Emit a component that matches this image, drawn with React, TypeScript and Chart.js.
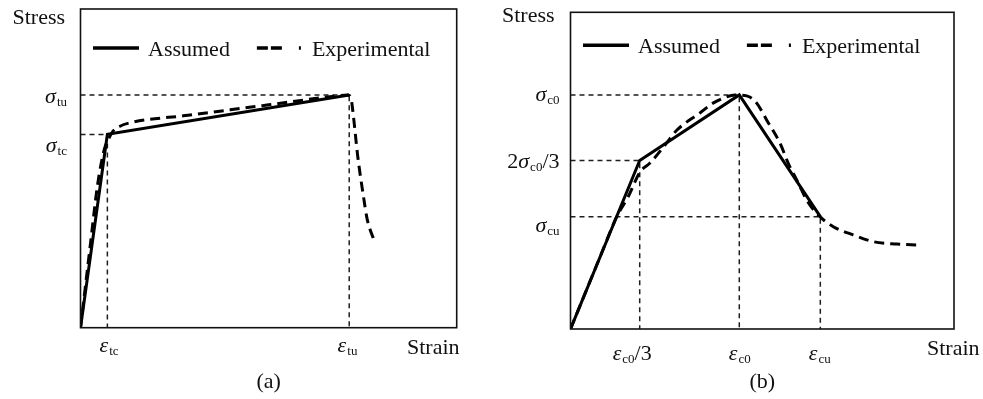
import React, { useEffect, useRef } from "react";
import { Chart, registerables } from "chart.js";
import type { Plugin } from "chart.js";

Chart.register(...registerables);

// ---- (a) tension: stress in units of σtu, strain in units of εtc ----
const tensionAssumedStrain = [0, 1, 10];
const tensionAssumedStress = [0, 0.831, 1];
const tensionTestStrain = [0, 0.38, 0.63, 0.88, 1.04, 1.21, 1.47, 1.85, 4, 7, 9.68, 9.94, 10.06, 10.13, 10.32, 10.54, 10.66, 10.77, 10.91];
const tensionTestStress = [0, 0.37, 0.61, 0.764, 0.81, 0.845, 0.866, 0.881, 0.913, 0.958, 0.998, 1, 0.991, 0.936, 0.734, 0.557, 0.471, 0.424, 0.381];
// labels of the assumed curve's corner points (strain / stress)
const tensionStrainLabels = ["ε_{tc}", "ε_{tu}"];
const tensionStressLabels = ["σ_{tc}", "σ_{tu}"];

// ---- (b) compression: stress in units of σc0, strain in units of εc0 ----
const compAssumedStrain = [0, 0.41, 1, 1.48];
const compAssumedStress = [0, 0.72, 1, 0.48];
const compTestStrain = [0, 0.175, 0.276, 0.341, 0.412, 0.471, 0.56, 0.631, 0.767, 0.844, 0.915, 0.974, 1.044, 1.103, 1.162, 1.241, 1.29, 1.35, 1.399, 1.478, 1.557, 1.675, 1.794, 1.932, 2.06];
const compTestStress = [0, 0.308, 0.483, 0.564, 0.671, 0.709, 0.786, 0.85, 0.923, 0.965, 0.989, 1, 0.996, 0.965, 0.893, 0.794, 0.708, 0.623, 0.551, 0.48, 0.437, 0.402, 0.373, 0.363, 0.359];
const compStrainLabels = ["ε_{c0}/3", "ε_{c0}", "ε_{cu}"];
const compStressLabels = ["2σ_{c0}/3", "σ_{c0}", "σ_{cu}"];

const seriesNames = ["Assumed", "Experimental"];
const axisTitles = ["Stress", "Strain"];

const SERIF = '"Liberation Serif", "Times New Roman", serif';
const FONT_MAIN = `22px ${SERIF}`;
const FONT_GREEK = `italic 22px ${SERIF}`;
const FONT_SUB = `13px ${SERIF}`;
const INK = "#111";

type Seg = { text: string; font: string; dy: number; pad: number };

// "2σ_{c0}/3" -> upright "2", italic "σ", subscript "c0", upright "/3"
function parseLabel(label: string): Seg[] {
  const segs: Seg[] = [];
  let buf = "";
  const flush = () => {
    if (buf) segs.push({ text: buf, font: FONT_MAIN, dy: 0, pad: 0 });
    buf = "";
  };
  let i = 0;
  while (i < label.length) {
    const ch = label[i];
    if (ch === "_" && label[i + 1] === "{") {
      flush();
      const end = label.indexOf("}", i);
      segs.push({ text: label.slice(i + 2, end), font: FONT_SUB, dy: 3, pad: 0 });
      i = end + 1;
    } else if (/[\u0370-\u03ff]/.test(ch)) {
      flush();
      segs.push({ text: ch, font: FONT_GREEK, dy: 0, pad: 1 });
      i++;
    } else {
      buf += ch;
      i++;
    }
  }
  flush();
  return segs;
}

function drawRich(ctx: CanvasRenderingContext2D, label: string, x: number, y: number, align: "left" | "center" | "right") {
  const segs = parseLabel(label);
  const widths = segs.map((s) => {
    ctx.font = s.font;
    return ctx.measureText(s.text).width + s.pad;
  });
  const total = widths.reduce((a, b) => a + b, 0);
  let cx = align === "left" ? x : align === "center" ? x - total / 2 : x - total;
  ctx.textAlign = "left";
  ctx.textBaseline = "alphabetic";
  segs.forEach((s, k) => {
    ctx.font = s.font;
    ctx.fillText(s.text, cx, y + s.dy);
    cx += widths[k];
  });
}

type PanelSpec = {
  left: number;
  width: number;
  padding: { left: number; top: number; right: number; bottom: number };
  xMax: number;
  yMax: number;
  assumedX: number[];
  assumedY: number[];
  testX: number[];
  testY: number[];
  strainLabels: string[];
  stressLabels: string[];
  caption: string;
  stressTitle: { dx: number; dy: number };
  strainTitle: { dx: number; dy: number };
  captionDy: number;
  yLabelDx: number;
  yLabelDy: number[];
  xLabelDy: number;
  xLabelDx: number[];
  legend: { dx: number; dy: number; gap: number };
};

const PANEL_A: PanelSpec = {
  left: 0,
  width: 490,
  padding: { left: 80.5, top: 9, right: 33.3, bottom: 71.3 },
  xMax: 14,
  yMax: 1.37,
  assumedX: tensionAssumedStrain,
  assumedY: tensionAssumedStress,
  testX: tensionTestStrain,
  testY: tensionTestStress,
  strainLabels: tensionStrainLabels,
  stressLabels: tensionStressLabels,
  caption: "(a)",
  stressTitle: { dx: -68, dy: 15 },
  strainTitle: { dx: -49.7, dy: 26 },
  captionDy: 60.3,
  yLabelDx: -13.5,
  yLabelDy: [17.7, 7.5],
  xLabelDy: 24,
  xLabelDx: [1.7, -1.7],
  legend: { dx: 12.5, dy: 39, gap: 27 },
};

const PANEL_B: PanelSpec = {
  left: 490,
  width: 493,
  padding: { left: 80.5, top: 12.3, right: 29, bottom: 70 },
  xMax: 2.272,
  yMax: 1.353,
  assumedX: compAssumedStrain,
  assumedY: compAssumedStress,
  testX: compTestStrain,
  testY: compTestStress,
  strainLabels: compStrainLabels,
  stressLabels: compStressLabels,
  caption: "(b)",
  stressTitle: { dx: -68.5, dy: 9.7 },
  strainTitle: { dx: -27, dy: 26 },
  captionDy: 59,
  yLabelDx: -11,
  yLabelDy: [7.5, 6, 15],
  xLabelDy: 31,
  xLabelDx: [-7.5, 0.5, -0.5],
  legend: { dx: 12.5, dy: 33, gap: 27 },
};

const zip = (xs: number[], ys: number[]) => xs.map((x, i) => ({ x, y: ys[i] }));

function annotations(spec: PanelSpec): Plugin {
  return {
    id: "annotations",
    afterDraw(chart) {
      const { ctx, chartArea: area } = chart;
      const xs = chart.scales.x;
      const ys = chart.scales.y;
      ctx.save();

      // frame
      ctx.strokeStyle = INK;
      ctx.lineWidth = 1.6;
      ctx.setLineDash([]);
      ctx.strokeRect(area.left, area.top, area.right - area.left, area.bottom - area.top);

      ctx.fillStyle = INK;
      // axis titles
      ctx.font = FONT_MAIN;
      ctx.textAlign = "left";
      ctx.textBaseline = "alphabetic";
      ctx.fillText(axisTitles[0], area.left + spec.stressTitle.dx, area.top + spec.stressTitle.dy);
      ctx.fillText(axisTitles[1], area.right + spec.strainTitle.dx, area.bottom + spec.strainTitle.dy);
      ctx.textAlign = "center";
      ctx.fillText(spec.caption, (area.left + area.right) / 2, area.bottom + spec.captionDy);

      // corner-point labels on both axes
      spec.strainLabels.forEach((lab, i) => {
        const px = xs.getPixelForValue(spec.assumedX[i + 1]);
        drawRich(ctx, lab, px + spec.xLabelDx[i], area.bottom + spec.xLabelDy, "center");
      });
      spec.stressLabels.forEach((lab, i) => {
        const py = ys.getPixelForValue(spec.assumedY[i + 1]);
        drawRich(ctx, lab, area.left + spec.yLabelDx, py + spec.yLabelDy[i], "right");
      });

      // legend
      let lx = area.left + spec.legend.dx;
      const ly = area.top + spec.legend.dy;
      chart.data.datasets.forEach((ds: any) => {
        if (!ds.label) return;
        ctx.strokeStyle = ds.borderColor;
        ctx.lineWidth = 3.6;
        ctx.lineCap = "butt";
        ctx.setLineDash(ds.legendDash || []);
        ctx.beginPath();
        ctx.moveTo(lx, ly);
        ctx.lineTo(lx + 46, ly);
        ctx.stroke();
        ctx.setLineDash([]);
        ctx.font = FONT_MAIN;
        ctx.textAlign = "left";
        ctx.fillText(ds.label, lx + 55, ly + 8);
        lx += 55 + ctx.measureText(ds.label).width + spec.legend.gap;
      });
      ctx.restore();
    },
  };
}

function Panel({ spec }: { spec: PanelSpec }) {
  const ref = useRef<HTMLCanvasElement>(null);
  useEffect(() => {
    const guides = spec.assumedX.slice(1).map((e, i) => {
      const s = spec.assumedY[i + 1];
      return {
        label: "",
        data: [
          { x: 0, y: s },
          { x: e, y: s },
          { x: e, y: 0 },
        ],
        borderColor: "#1e1e1e",
        borderWidth: 1.5,
        borderDash: [5, 4],
        pointRadius: 0,
        tension: 0,
      };
    });
    const chart = new Chart(ref.current as HTMLCanvasElement, {
      type: "line",
      data: {
        datasets: [
          {
            label: seriesNames[0],
            data: zip(spec.assumedX, spec.assumedY),
            borderColor: "#000",
            borderWidth: 3,
            pointRadius: 0,
            tension: 0,
          },
          {
            label: seriesNames[1],
            data: zip(spec.testX, spec.testY),
            borderColor: "#000",
            borderWidth: 3,
            borderDash: [10, 6],
            pointRadius: 0,
            cubicInterpolationMode: "monotone",
            legendDash: [11, 3, 11, 17, 2, 100],
          } as any,
          ...guides,
        ],
      },
      options: {
        animation: false,
        responsive: false,
        devicePixelRatio: 1,
        events: [],
        layout: { padding: spec.padding },
        scales: {
          x: { type: "linear", min: 0, max: spec.xMax, display: false },
          y: { type: "linear", min: 0, max: spec.yMax, display: false },
        },
        plugins: { legend: { display: false }, tooltip: { enabled: false } },
      },
      plugins: [annotations(spec)],
    });
    return () => chart.destroy();
  }, [spec]);
  return (
    <canvas
      ref={ref}
      width={spec.width}
      height={399}
      style={{ position: "absolute", left: spec.left, top: 0, width: spec.width, height: 399 }}
    />
  );
}

export default function App() {
  return (
    <div style={{ position: "fixed", left: 0, top: 0, width: 983, height: 399, background: "#fff", overflow: "hidden" }}>
      <Panel spec={PANEL_A} />
      <Panel spec={PANEL_B} />
    </div>
  );
}
